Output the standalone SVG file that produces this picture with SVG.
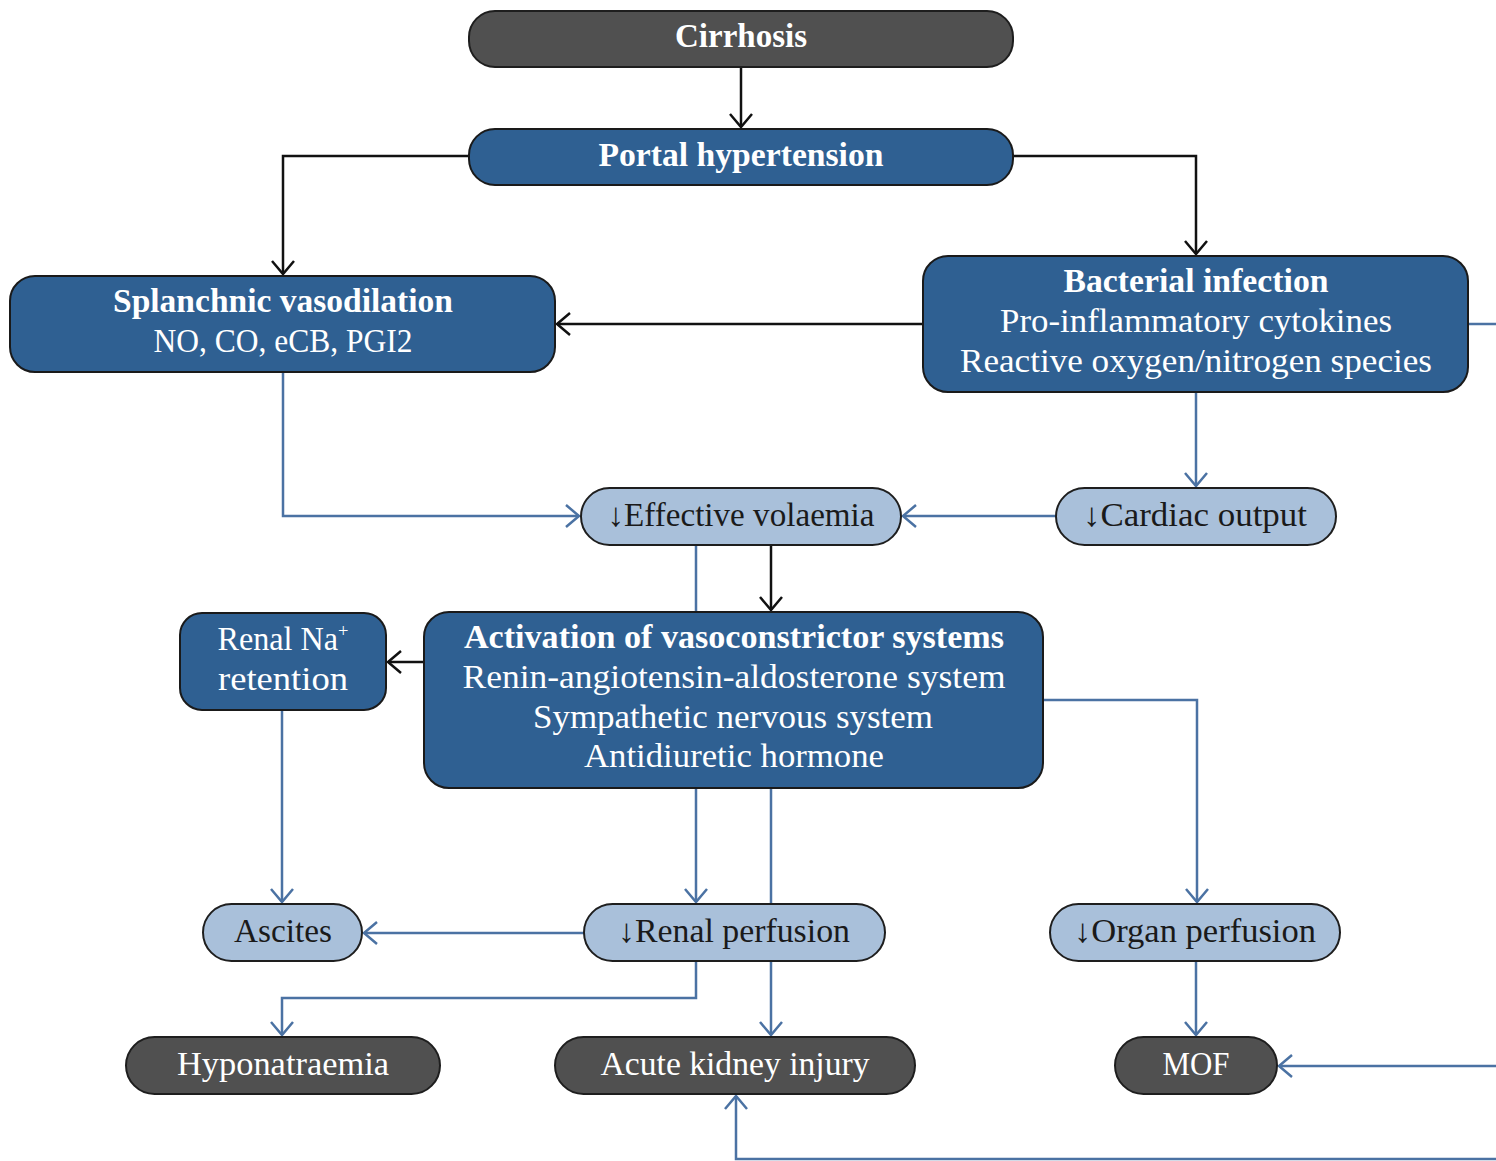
<svg xmlns="http://www.w3.org/2000/svg" width="1496" height="1161" viewBox="0 0 1496 1161">
<style>
.dark{fill:#505050;stroke:#1e1e1e;stroke-width:2}
.blue{fill:#2f6092;stroke:#1a1a1a;stroke-width:2}
.light{fill:#a9c0da;stroke:#1e1e1e;stroke-width:2}
text{font-family:"Liberation Serif","DejaVu Serif",serif;font-size:33px;text-anchor:middle}
.w{fill:#ffffff}
.k{fill:#1a1a1a}
.b{font-weight:bold}
.cb{fill:none;stroke:#111;stroke-width:2.5}
.cl{fill:none;stroke:#4b72a3;stroke-width:2.5}
</style>
<defs>
<marker id="ak" markerUnits="userSpaceOnUse" markerWidth="18" markerHeight="26" refX="14" refY="12" orient="auto" viewBox="0 0 18 26">
<path d="M1,1 L14,12 L1,23" fill="none" stroke="#111" stroke-width="2.5"/>
</marker>
<marker id="al" markerUnits="userSpaceOnUse" markerWidth="18" markerHeight="26" refX="14" refY="12" orient="auto" viewBox="0 0 18 26">
<path d="M1,1 L14,12 L1,23" fill="none" stroke="#4b72a3" stroke-width="2.5"/>
</marker>
</defs>
<g id="connectors">
<path class="cb" d="M741,67 V127" marker-end="url(#ak)"/>
<path class="cb" d="M469,156 H283 V274" marker-end="url(#ak)"/>
<path class="cb" d="M1013,156 H1196 V254" marker-end="url(#ak)"/>
<path class="cb" d="M923,324 H557" marker-end="url(#ak)"/>
<path class="cl" d="M1468,324 H1496"/>
<path class="cl" d="M283,372 V516 H579" marker-end="url(#al)"/>
<path class="cl" d="M1196,392 V486" marker-end="url(#al)"/>
<path class="cl" d="M1056,516 H903" marker-end="url(#al)"/>
<path class="cb" d="M771,545 V610" marker-end="url(#ak)"/>
<path class="cl" d="M696,545 V902" marker-end="url(#al)"/>
<path class="cl" d="M771,788 V1035" marker-end="url(#al)"/>
<path class="cb" d="M424,662 H388" marker-end="url(#ak)"/>
<path class="cl" d="M282,710 V902" marker-end="url(#al)"/>
<path class="cl" d="M584,933 H364" marker-end="url(#al)"/>
<path class="cl" d="M1043,700 H1197 V902" marker-end="url(#al)"/>
<path class="cl" d="M1196,961 V1035" marker-end="url(#al)"/>
<path class="cl" d="M696,961 V998 H282 V1035" marker-end="url(#al)"/>
<path class="cl" d="M1496,1066 H1279" marker-end="url(#al)"/>
<path class="cl" d="M1496,1159 H736 V1096" marker-end="url(#al)"/>
</g>
<g id="cirrhosis">
<rect class="dark" x="469" y="11" width="544" height="56" rx="26"/>
<text class="w b" x="741" y="47" textLength="132" lengthAdjust="spacingAndGlyphs">Cirrhosis</text>
</g>
<g id="portal-hypertension">
<rect class="blue" x="469" y="129" width="544" height="56" rx="26"/>
<text class="w b" x="741" y="166" textLength="285" lengthAdjust="spacingAndGlyphs">Portal hypertension</text>
</g>
<g id="splanchnic-vasodilation">
<rect class="blue" x="10" y="276" width="545" height="96" rx="25"/>
<text class="w b" x="283" y="312" textLength="340" lengthAdjust="spacingAndGlyphs">Splanchnic vasodilation</text>
<text class="w" x="283" y="352" textLength="259" lengthAdjust="spacingAndGlyphs">NO, CO, eCB, PGI2</text>
</g>
<g id="bacterial-infection">
<rect class="blue" x="923" y="256" width="545" height="136" rx="25"/>
<text class="w b" x="1196" y="292" textLength="265" lengthAdjust="spacingAndGlyphs">Bacterial infection</text>
<text class="w" x="1196" y="332" textLength="392" lengthAdjust="spacingAndGlyphs">Pro-inflammatory cytokines</text>
<text class="w" x="1196" y="372" textLength="472" lengthAdjust="spacingAndGlyphs">Reactive oxygen/nitrogen species</text>
</g>
<g id="effective-volaemia">
<rect class="light" x="581" y="488" width="320" height="57" rx="28.5"/>
<text class="k" x="741" y="526" textLength="267" lengthAdjust="spacingAndGlyphs">↓Effective volaemia</text>
</g>
<g id="cardiac-output">
<rect class="light" x="1056" y="488" width="280" height="57" rx="28.5"/>
<text class="k" x="1195" y="526" textLength="224" lengthAdjust="spacingAndGlyphs">↓Cardiac output</text>
</g>
<g id="renal-na-retention">
<rect class="blue" x="180" y="613" width="206" height="97" rx="22"/>
<text class="w" x="283" y="650" textLength="131" lengthAdjust="spacingAndGlyphs">Renal Na<tspan font-size="19" dy="-13">+</tspan></text>
<text class="w" x="283" y="690" textLength="130" lengthAdjust="spacingAndGlyphs">retention</text>
</g>
<g id="vasoconstrictor-systems">
<rect class="blue" x="424" y="612" width="619" height="176" rx="25"/>
<text class="w b" x="734" y="648" textLength="540" lengthAdjust="spacingAndGlyphs">Activation of vasoconstrictor systems</text>
<text class="w" x="734" y="688" textLength="543" lengthAdjust="spacingAndGlyphs">Renin-angiotensin-aldosterone system</text>
<text class="w" x="733" y="728" textLength="400" lengthAdjust="spacingAndGlyphs">Sympathetic nervous system</text>
<text class="w" x="734" y="767" textLength="300" lengthAdjust="spacingAndGlyphs">Antidiuretic hormone</text>
</g>
<g id="ascites">
<rect class="light" x="203" y="904" width="159" height="57" rx="28.5"/>
<text class="k" x="283" y="942" textLength="98" lengthAdjust="spacingAndGlyphs">Ascites</text>
</g>
<g id="renal-perfusion">
<rect class="light" x="584" y="904" width="301" height="57" rx="28.5"/>
<text class="k" x="734" y="942" textLength="232" lengthAdjust="spacingAndGlyphs">↓Renal perfusion</text>
</g>
<g id="organ-perfusion">
<rect class="light" x="1050" y="904" width="290" height="57" rx="28.5"/>
<text class="k" x="1195" y="942" textLength="242" lengthAdjust="spacingAndGlyphs">↓Organ perfusion</text>
</g>
<g id="hyponatraemia">
<rect class="dark" x="126" y="1037" width="314" height="57" rx="28.5"/>
<text class="w" x="283" y="1075" textLength="212" lengthAdjust="spacingAndGlyphs">Hyponatraemia</text>
</g>
<g id="acute-kidney-injury">
<rect class="dark" x="555" y="1037" width="360" height="57" rx="28.5"/>
<text class="w" x="735" y="1075" textLength="269" lengthAdjust="spacingAndGlyphs">Acute kidney injury</text>
</g>
<g id="mof">
<rect class="dark" x="1115" y="1037" width="162" height="57" rx="28.5"/>
<text class="w" x="1196" y="1075" textLength="67" lengthAdjust="spacingAndGlyphs">MOF</text>
</g>
</svg>
